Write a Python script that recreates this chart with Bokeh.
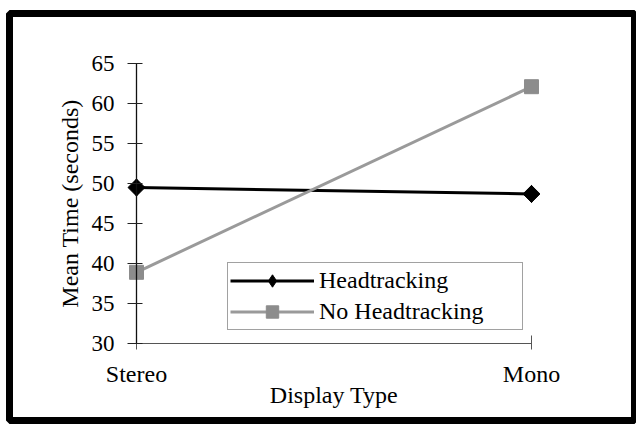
import numpy as np
from bokeh.plotting import figure
from bokeh.models import Range1d, FixedTicker, Legend, LegendItem
from bokeh.embed import file_html
from bokeh.resources import INLINE

# ---- data ----
categories = ["Stereo", "Mono"]
headtracking = [49.5, 48.7]
no_headtracking = [38.9, 62.1]
y_ticks = [30, 35, 40, 45, 50, 55, 60, 65]
x_label = "Display Type"
y_label = "Mean Time (seconds)"

xs = list(range(len(categories)))

FONT = "Liberation Serif"

# frame fills almost the whole canvas; axes are placed inside it at fixed locations
p = figure(
    width=636, height=425, title=None,
    output_backend="svg", toolbar_location=None,
    x_range=Range1d(-0.32152, 1.26076),
    y_range=Range1d(20.375, 71.25),
    min_border_left=9, min_border_right=2,
    min_border_top=13, min_border_bottom=5,
    background_fill_color="white", border_fill_color="white",
)
p.outline_line_color = "black"
p.outline_line_width = 7
p.xgrid.visible = False
p.ygrid.visible = False

# axes
xa = p.xaxis[0]
xa.ticker = FixedTicker(ticks=xs)
xa.major_label_overrides = {i: c for i, c in zip(xs, categories)}
xa.fixed_location = y_ticks[0]
xa.bounds = (xs[0], xs[-1])
xa.axis_label = x_label
xa.axis_line_color = "#555555"
xa.axis_line_width = 1
xa.major_tick_line_color = "#555555"
xa.major_tick_in = 8
xa.major_tick_out = 6
xa.minor_tick_line_color = None
xa.major_label_standoff = 11
xa.axis_label_standoff = -8
xa.major_label_text_font_size = "24px"

ya = p.yaxis[0]
ya.ticker = FixedTicker(ticks=y_ticks)
ya.fixed_location = xs[0]
ya.bounds = (y_ticks[0], y_ticks[-1])
ya.axis_label = y_label
ya.axis_line_color = "#111111"
ya.axis_line_width = 1.3
ya.major_tick_line_color = "#222222"
ya.major_tick_in = 6
ya.major_tick_out = 9
ya.minor_tick_line_color = None
ya.major_label_standoff = 13
ya.axis_label_standoff = 6
ya.major_label_text_font_size = "23px"

for ax in (xa, ya):
    ax.major_label_text_font = FONT
    ax.major_label_text_color = "black"
    ax.axis_label_text_font = FONT
    ax.axis_label_text_font_size = "24px"
    ax.axis_label_text_font_style = "normal"
    ax.axis_label_text_color = "black"

# series
l1 = p.line(xs, headtracking, line_color="black", line_width=3)
# narrow diamond (used as legend glyph), covered by the wider rotated square
m1_leg = p.scatter(xs, headtracking, marker="diamond", size=17,
                   fill_color="black", line_color="black")
m1 = p.scatter(xs, headtracking, marker="square", angle=np.pi / 4, size=12,
               fill_color="black", line_color="black")
l2 = p.line(xs, no_headtracking, line_color="#9a9a9a", line_width=3)
m2 = p.scatter(xs, no_headtracking, marker="square", size=14,
               fill_color="#8c8c8c", line_color="#8c8c8c")

legend = Legend(
    items=[
        LegendItem(label="Headtracking", renderers=[l1, m1_leg]),
        LegendItem(label="No Headtracking", renderers=[l2, m2]),
    ],
    location=(218, 90),
    padding=2, spacing=-1, margin=0,
    glyph_width=84, glyph_height=31, label_height=31, label_width=201,
    label_standoff=5,
    label_text_font=FONT, label_text_font_size="24px", label_text_color="black",
    border_line_color="#444444", border_line_width=1,
    background_fill_color="white", background_fill_alpha=1.0,
)
p.add_layout(legend, "center")

open("out.html", "w").write(file_html(p, INLINE))
